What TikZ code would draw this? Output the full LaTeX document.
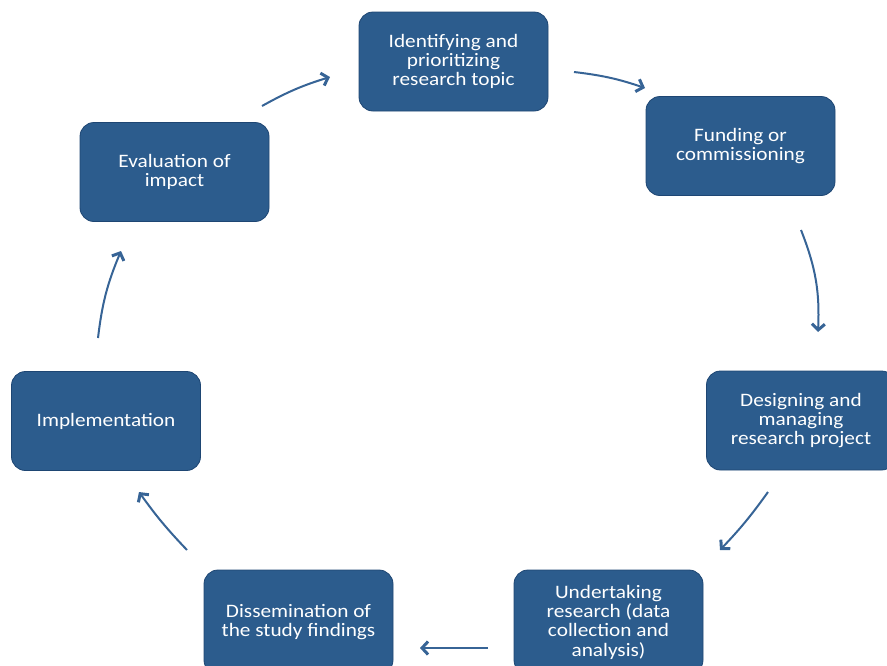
\documentclass[tikz,border=0pt]{standalone}
\usepackage{fontspec}
\setmainfont[FakeStretch=1.12]{Carlito}
\usetikzlibrary{arrows.meta}
\definecolor{boxblue}{RGB}{44,92,141}
\definecolor{boxedge}{RGB}{30,70,115}
\definecolor{arrowblue}{RGB}{55,100,150}
\begin{document}
\begin{tikzpicture}[x=1pt,y=-1pt,
  stage/.style={rectangle, rounded corners=14pt, fill=boxblue, draw=boxedge, line width=0.8pt,
    minimum width=189pt, minimum height=99pt, text=white, align=center,
    font=\fontsize{19}{19.3}\selectfont, inner sep=2pt},
  flow/.style={draw=arrowblue, line width=2pt, -{Straight Barb[length=6pt,width=13pt,line width=3pt]}}]
\useasboundingbox (0,0) rectangle (887,665);
\begin{scope}
\clip (0,0) rectangle (887,665);
\node[stage] (s1) at (453.5,61.5) {Identifying and\\prioritizing\\research topic};
\node[stage] (s2) at (740.5,146) {Funding or\\commissioning};
\node[stage] (s3) at (801,420.5) {Designing and\\managing\\research project};
\node[stage, minimum height=104pt] (s4) at (608.5,622) {Undertaking\\research (data\\collection and\\analysis)};
\node[stage, minimum height=104pt] (s5) at (298.5,622) {Dissemination of\\the study findings};
\node[stage] (s6) at (106,421) {Implementation};
\node[stage] (s7) at (174.5,172) {Evaluation of\\impact};
\end{scope}
\coordinate (a1s) at (574,72);  \coordinate (a1e) at (645,88);
\coordinate (a2s) at (801,230); \coordinate (a2e) at (818,332);
\coordinate (a3s) at (768,492); \coordinate (a3e) at (720,550);
\coordinate (a4s) at (488,648); \coordinate (a4e) at (420,648);
\coordinate (a5s) at (187,550); \coordinate (a5e) at (139,492);
\coordinate (a6s) at (98,338);  \coordinate (a6e) at (121,251);
\coordinate (a7s) at (262,106); \coordinate (a7e) at (330,77);
\draw[flow] (a1s) to[bend left=6] (a1e);
\draw[flow] (a2s) to[bend right=-12] (a2e);
\draw[flow] (a3s) to[bend left=4] (a3e);
\draw[flow] (a4s) -- (a4e);
\draw[flow] (a5s) to[bend left=4] (a5e);
\draw[flow] (a6s) to[bend left=8] (a6e);
\draw[flow] (a7s) to[bend left=6] (a7e);
\end{tikzpicture}
\end{document}
